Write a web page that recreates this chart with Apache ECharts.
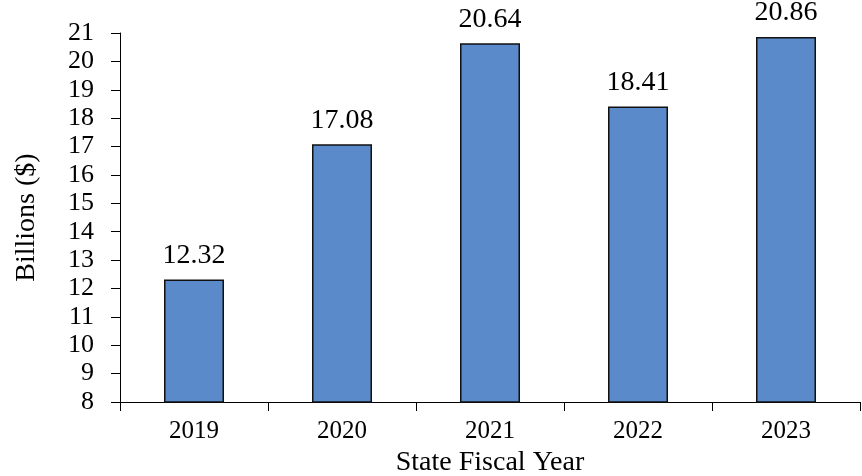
<!DOCTYPE html>
<html>
<head>
<meta charset="utf-8">
<script src="https://cdn.jsdelivr.net/npm/echarts@6/dist/echarts.min.js"></script>
<style>
  html, body { margin: 0; padding: 0; background: #fff; }
  #chart { width: 862px; height: 476px; }
</style>
</head>
<body>
<div id="chart"></div>
<script>
// Fiscal years and values (billions of dollars)
const years = ['2019', '2020', '2021', '2022', '2023'];
const values = [12.32, 17.08, 20.64, 18.41, 20.86];

const serif = '"Liberation Serif", "Times New Roman", serif';

const chart = echarts.init(document.getElementById('chart'));
chart.setOption({
  animation: false,
  backgroundColor: '#ffffff',
  grid: { left: 120, right: 2, top: 33, bottom: 74, outerBoundsMode: 'none', containLabel: false },
  xAxis: {
    type: 'category',
    data: years,
    name: 'State Fiscal Year',
    nameLocation: 'middle',
    nameGap: 47,
    nameTextStyle: { fontFamily: serif, fontSize: 28, color: '#000' },
    axisLine: { show: true, lineStyle: { color: '#000', width: 1 } },
    axisTick: { show: true, alignWithLabel: false, length: 9, lineStyle: { color: '#000' } },
    axisLabel: { fontFamily: serif, fontSize: 25, color: '#000', margin: 17 }
  },
  yAxis: {
    type: 'value',
    min: 8,
    max: 21,
    interval: 1,
    name: 'Billions ($)',
    nameLocation: 'middle',
    nameGap: 79,
    nameTextStyle: { fontFamily: serif, fontSize: 28, color: '#000' },
    axisLine: { show: true, lineStyle: { color: '#000', width: 1 } },
    axisTick: { show: true, length: 9, lineStyle: { color: '#000' } },
    axisLabel: { fontFamily: serif, fontSize: 26, color: '#000', margin: 26 },
    splitLine: { show: false }
  },
  series: [{
    type: 'bar',
    data: values,
    barWidth: 60,
    itemStyle: { color: '#5A8ACA', borderColor: '#111', borderWidth: 1.5 },
    label: {
      show: true,
      position: 'top',
      distance: 10,
      fontFamily: serif,
      fontSize: 28,
      color: '#000',
      formatter: p => p.value.toFixed(2)
    }
  }]
});
</script>
</body>
</html>
